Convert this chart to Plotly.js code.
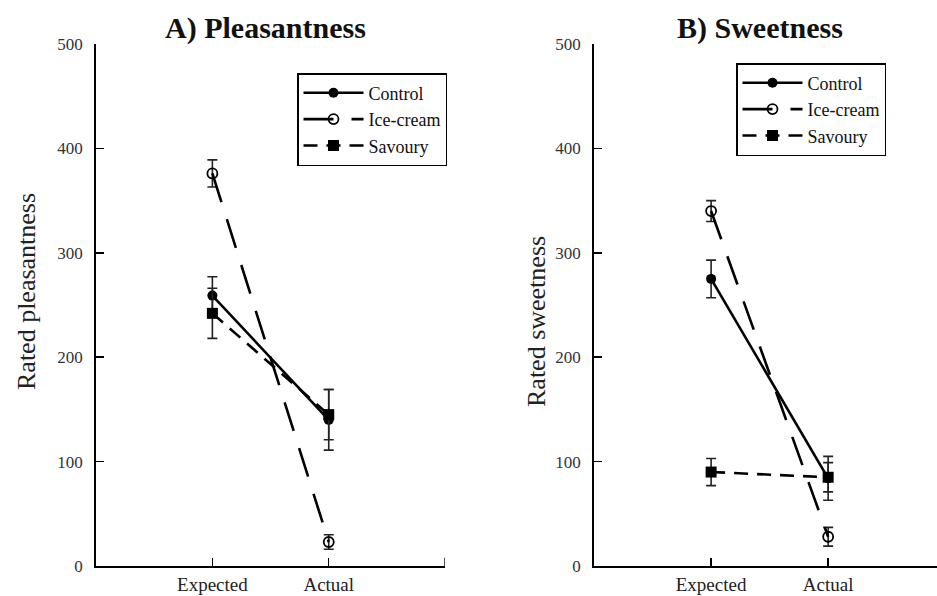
<!DOCTYPE html>
<html>
<head>
<meta charset="utf-8">
<script src="https://cdn.plot.ly/plotly-3.0.1.min.js"></script>
<style>html,body{margin:0;padding:0;background:#fff;}#chart{width:937px;height:596px;}</style>
</head>
<body>
<div id="chart"></div>
<script>
const categories = ["Expected", "Actual"];
const seriesNames = ["Control", "Ice-cream", "Savoury"];

// Panel A: Pleasantness
const pleasControl = [259, 140];
const pleasControlErr = [18, 29];
const pleasIce = [376, 23];
const pleasIceErr = [13, 7];
const pleasSavoury = [242, 145];
const pleasSavouryErr = [24, 24];

// Panel B: Sweetness
const sweetControl = [275, 84];
const sweetControlErr = [18, 21];
const sweetIce = [340, 28];
const sweetIceErr = [10, 9];
const sweetSavoury = [90, 85];
const sweetSavouryErr = [13, 14];

const yTicks = [0, 100, 200, 300, 400, 500];

const serif = "Liberation Serif, Times New Roman, serif";
const styles = [
  {dash: "solid", symbol: "circle"},
  {dash: "30px,18px", symbol: "circle-open"},
  {dash: "14px,9px", symbol: "square"}
];

function makeTraces(vals, errs, xa, ya, legend) {
  return vals.map((v, i) => ({
    type: "scatter",
    mode: "lines+markers",
    name: seriesNames[i],
    x: categories,
    y: v,
    xaxis: xa,
    yaxis: ya,
    legend: legend,
    line: {color: "#000", width: 2.6, dash: styles[i].dash},
    marker: {symbol: styles[i].symbol, size: i === 2 ? 11 : 10, color: "#000",
             line: {color: "#000", width: i === 1 ? 1.8 : 0}},
    error_y: {type: "data", array: errs[i], visible: true, color: "#222", thickness: 1.6, width: 5}
  }));
}

const data = [
  ...makeTraces([pleasControl, pleasIce, pleasSavoury], [pleasControlErr, pleasIceErr, pleasSavouryErr], "x", "y", "legend"),
  ...makeTraces([sweetControl, sweetIce, sweetSavoury], [sweetControlErr, sweetIceErr, sweetSavouryErr], "x2", "y2", "legend2")
];

const xCommon = {
  type: "category",
  showgrid: false, zeroline: false,
  showline: true, linecolor: "#000", linewidth: 2,
  ticks: "inside", ticklen: 8, tickwidth: 1.5, tickcolor: "#000",
  tickfont: {family: serif, size: 19, color: "#222"},
  fixedrange: true
};
const yCommon = {
  range: [0, 500],
  tickvals: yTicks,
  ticktext: yTicks.map(String),
  showgrid: false, zeroline: false,
  showline: true, linecolor: "#000", linewidth: 2,
  ticks: "inside", ticklen: 8, tickwidth: 1.5, tickcolor: "#000",
  tickfont: {family: serif, size: 17, color: "#333"},
  ticklabelstandoff: 8
};

const legendCommon = {
  bgcolor: "#fff", bordercolor: "#000", borderwidth: 1.5,
  font: {family: serif, size: 18, color: "#111"},
  tracegroupgap: 0, itemwidth: 60,
  xanchor: "left", yanchor: "top"
};

const layout = {
  width: 937, height: 596,
  margin: {l: 0, r: 0, t: 44, b: 30},
  paper_bgcolor: "#fff", plot_bgcolor: "#fff",
  showlegend: true,
  xaxis: Object.assign({}, xCommon, {domain: [0.1025, 0.475], range: [-1, 2.0], anchor: "y"}),
  yaxis: Object.assign({}, yCommon, {domain: [0, 1], anchor: "x"}),
  xaxis2: Object.assign({}, xCommon, {domain: [0.634, 1.0], range: [-1, 1.93], anchor: "y2"}),
  yaxis2: Object.assign({}, yCommon, {domain: [0, 1], anchor: "x2"}),
  legend: Object.assign({}, legendCommon, {x: 297/937, y: 1 - (73 - 44)/522}),
  legend2: Object.assign({}, legendCommon, {x: 736/937, y: 1 - (63 - 44)/522}),
  shapes: [
    {type: "line", xref: "x", yref: "paper", x0: 2, x1: 2, y0: 0, y1: 0.016, line: {color: "#000", width: 1.5}}
  ],
  annotations: [
    {text: "<b>A) Pleasantness</b>", xref: "paper", yref: "paper", x: 265/937, y: 1 + (44 - 28)/522,
     showarrow: false, font: {family: serif, size: 30, color: "#111"}, xanchor: "center", yanchor: "middle"},
    {text: "<b>B) Sweetness</b>", xref: "paper", yref: "paper", x: 760/937, y: 1 + (44 - 28)/522,
     showarrow: false, font: {family: serif, size: 30, color: "#111"}, xanchor: "center", yanchor: "middle"},
    {text: "Rated pleasantness", xref: "paper", yref: "paper", x: 26/937, y: 1 - (292 - 44)/522,
     textangle: -90, showarrow: false, font: {family: serif, size: 26, color: "#222"}, xanchor: "center", yanchor: "middle"},
    {text: "Rated sweetness", xref: "paper", yref: "paper", x: 536/937, y: 1 - (322 - 44)/522,
     textangle: -90, showarrow: false, font: {family: serif, size: 26, color: "#222"}, xanchor: "center", yanchor: "middle"}
  ]
};

Plotly.newPlot("chart", data, layout, {displayModeBar: false, staticPlot: true});
</script>
</body>
</html>
